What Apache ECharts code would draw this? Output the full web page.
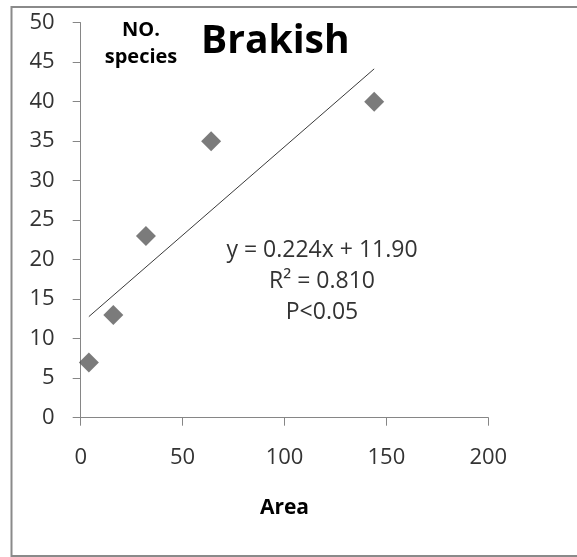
<!DOCTYPE html>
<html>
<head>
<meta charset="utf-8">
<script src="https://cdn.jsdelivr.net/npm/echarts@6/dist/echarts.min.js"></script>
<style>
html,body{margin:0;padding:0;background:#fff;}
#chart{width:577px;height:557px;}
</style>
</head>
<body>
<div id="chart"></div>
<script>
// Data
const areaValues = [4, 16, 32, 64, 144];
const speciesValues = [7, 13, 23, 35, 40];
const xTicks = [0, 50, 100, 150, 200];
const yTicks = [0, 5, 10, 15, 20, 25, 30, 35, 40, 45, 50];
const trendSlope = 0.224;
const trendIntercept = 11.90;
const chartTitle = 'Brakish';
const xAxisTitle = 'Area';
const yAxisTitle = 'NO.\nspecies';
const equationLines = ['y = 0.224x + 11.90', 'R\u00B2 = 0.810', 'P<0.05'];

const FONT = '"Open Sans", "Liberation Sans", sans-serif';
const scatterData = areaValues.map((x, i) => [x, speciesValues[i]]);
const xMin = Math.min(...areaValues), xMax = Math.max(...areaValues);
const trendData = [xMin, xMax].map(x => [x, trendSlope * x + trendIntercept]);

const chart = echarts.init(document.getElementById('chart'), null, {renderer: 'canvas'});
chart.setOption({
  animation: false,
  backgroundColor: '#ffffff',
  title: {
    text: chartTitle,
    left: 196, top: 17,
    textStyle: {fontFamily: FONT, fontWeight: 'bold', fontSize: 39, color: '#000'}
  },
  grid: {left: 80.7, right: 88.7, top: 22.7, bottom: 139.3, containLabel: false},
  xAxis: {
    type: 'value', min: xTicks[0], max: xTicks[xTicks.length - 1], interval: 50,
    name: xAxisTitle, nameLocation: 'middle', nameGap: 80,
    nameTextStyle: {fontFamily: FONT, fontWeight: 'bold', fontSize: 21, color: '#000'},
    axisLine: {show: true, lineStyle: {color: '#868686', width: 1}},
    axisTick: {show: true, length: 8, inside: false, lineStyle: {color: '#868686'}},
    splitLine: {show: false},
    axisLabel: {fontFamily: FONT, fontSize: 22, color: '#333', margin: 29}
  },
  yAxis: {
    type: 'value', min: yTicks[0], max: yTicks[yTicks.length - 1], interval: 5,
    axisLine: {show: true, lineStyle: {color: '#868686', width: 1}},
    axisTick: {show: true, length: 8, inside: false, lineStyle: {color: '#868686'}},
    splitLine: {show: false},
    axisLabel: {fontFamily: FONT, fontSize: 22, color: '#333', margin: 26}
  },
  graphic: [
    {type: 'rect', silent: true, z: -1,
     shape: {x: 11.5, y: 7, width: 620, height: 549},
     style: {fill: 'none', stroke: '#8a8a8a', lineWidth: 2}},
    {type: 'text', silent: true, x: 141, y: 44,
     style: {text: yAxisTitle, font: 'bold 20px ' + FONT, fill: '#000',
             align: 'center', verticalAlign: 'middle', lineHeight: 27}},
    {type: 'text', silent: true, x: 322, y: 281,
     style: {text: equationLines.join('\n'), font: '23px ' + FONT, fill: '#333',
             align: 'center', verticalAlign: 'middle', lineHeight: 31}}
  ],
  series: [
    {type: 'line', data: trendData, showSymbol: false, symbol: 'none',
     lineStyle: {color: '#3a3a3a', width: 1}, z: 2},
    {type: 'scatter', data: scatterData, symbol: 'diamond', symbolSize: 20,
     itemStyle: {color: '#5a5a5a'}, z: 3}
  ]
});
</script>
</body>
</html>
